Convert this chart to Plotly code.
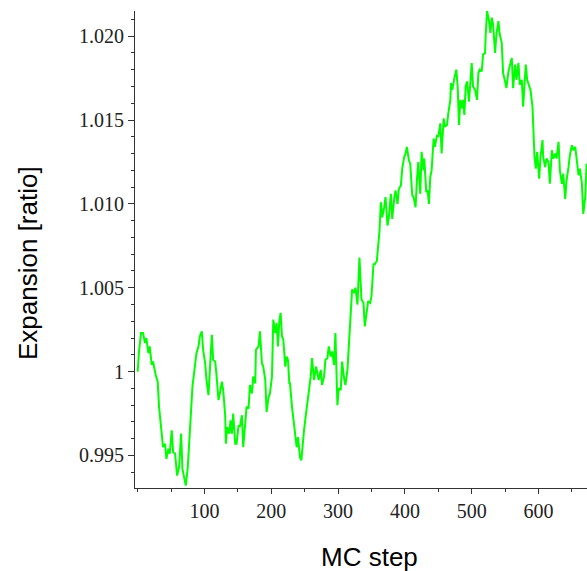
import plotly.graph_objects as go

steps = [0, 2, 5, 8, 11, 13, 16, 18, 21, 23, 27, 30, 32, 36, 38, 41, 43, 46, 48, 51,
         53, 56, 59, 62, 65, 67, 70, 72, 75, 78, 82, 85, 88, 91, 93, 96, 98, 101, 103, 106,
         108, 111, 113, 116, 118, 121, 123, 126, 128, 131, 132, 134, 137, 139, 141, 143, 146, 148, 151, 153,
         156, 158, 161, 163, 166, 168, 171, 173, 176, 177, 181, 183, 186, 188, 191, 193, 196, 198, 201, 203,
         206, 208, 210, 212, 214, 216, 218, 221, 223, 225, 227, 228, 231, 233, 236, 238, 240, 243, 245, 246,
         249, 252, 254, 256, 259, 261, 264, 267, 269, 271, 274, 276, 279, 281, 284, 286, 289, 291, 294, 296,
         299, 301, 304, 306, 309, 311, 314, 316, 319, 321, 324, 326, 329, 332, 335, 338, 340, 343, 345, 348,
         350, 353, 355, 358, 360, 362, 364, 366, 369, 371, 374, 376, 379, 381, 384, 386, 389, 391, 394, 396,
         399, 401, 403, 406, 408, 411, 413, 416, 418, 420, 423, 425, 428, 429, 432, 434, 436, 438, 440, 443,
         445, 448, 450, 453, 455, 458, 460, 463, 465, 468, 469, 471, 474, 477, 479, 481, 483, 485, 487, 489,
         491, 493, 496, 498, 500, 502, 505, 508, 510, 512, 515, 517, 520, 521, 523, 526, 528, 530, 532, 535,
         537, 540, 542, 545, 547, 550, 552, 555, 557, 560, 562, 565, 567, 570, 572, 575, 577, 579, 581, 583,
         586, 588, 591, 592, 594, 596, 598, 601, 603, 606, 607, 610, 612, 615, 617, 620, 622, 625, 627, 630,
         632, 635, 637, 640, 642, 645, 647, 650, 652, 655, 657, 660, 662, 665, 667, 670, 672]

expansion = [1.0000, 1.0012, 1.0023, 1.0023, 1.0017, 1.0020, 1.0011, 1.0015, 1.0004, 1.0006,
             0.9998, 0.9994, 0.9979, 0.9963, 0.9955, 0.9957, 0.9948, 0.9954, 0.9951, 0.9965,
             0.9952, 0.9951, 0.9938, 0.9943, 0.9963, 0.9942, 0.9937, 0.9932, 0.9943, 0.9961,
             0.9991, 1.0001, 1.0011, 1.0015, 1.0021, 1.0024, 1.0013, 1.0005, 0.9995, 0.9986,
             1.0003, 1.0022, 1.0007, 1.0006, 0.9998, 0.9983, 0.9987, 0.9994, 0.9989, 0.9974,
             0.9957, 0.9967, 0.9963, 0.9971, 0.9963, 0.9975, 0.9957, 0.9957, 0.9968, 0.9967,
             0.9974, 0.9955, 0.9969, 0.9979, 0.9978, 0.9992, 0.9987, 0.9997, 0.9993, 1.0013,
             1.0015, 1.0024, 1.0005, 1.0003, 0.9995, 0.9976, 0.9985, 0.9987, 0.9997, 1.0031,
             1.0023, 1.0029, 1.0015, 1.0030, 1.0035, 1.0021, 1.0019, 1.0003, 1.0009, 1.0007,
             0.9993, 0.9993, 0.9979, 0.9973, 0.9961, 0.9955, 0.9961, 0.9949, 0.9947, 0.9953,
             0.9965, 0.9975, 0.9981, 0.9985, 0.9997, 1.0008, 0.9995, 1.0003, 0.9999, 0.9995,
             1.0001, 0.9992, 0.9997, 1.0007, 1.0008, 1.0015, 1.0009, 1.0012, 1.0004, 1.0023,
             0.9980, 0.9990, 0.9989, 1.0006, 0.9996, 0.9992, 1.0001, 1.0016, 1.0037, 1.0049,
             1.0047, 1.0050, 1.0040, 1.0068, 1.0043, 1.0041, 1.0027, 1.0037, 1.0042, 1.0041,
             1.0045, 1.0064, 1.0064, 1.0066, 1.0076, 1.0084, 1.0101, 1.0092, 1.0098, 1.0104,
             1.0087, 1.0092, 1.0106, 1.0091, 1.0103, 1.0108, 1.0100, 1.0109, 1.0111, 1.0121,
             1.0128, 1.0130, 1.0134, 1.0126, 1.0124, 1.0105, 1.0104, 1.0098, 1.0114, 1.0125,
             1.0106, 1.0131, 1.0120, 1.0127, 1.0107, 1.0108, 1.0100, 1.0116, 1.0120, 1.0139,
             1.0134, 1.0141, 1.0140, 1.0148, 1.0130, 1.0151, 1.0146, 1.0147, 1.0154, 1.0162,
             1.0172, 1.0168, 1.0175, 1.0180, 1.0170, 1.0147, 1.0162, 1.0157, 1.0162, 1.0153,
             1.0170, 1.0173, 1.0161, 1.0174, 1.0184, 1.0170, 1.0168, 1.0162, 1.0178, 1.0180,
             1.0179, 1.0189, 1.0190, 1.0201, 1.0215, 1.0209, 1.0202, 1.0211, 1.0207, 1.0190,
             1.0201, 1.0209, 1.0201, 1.0196, 1.0178, 1.0173, 1.0169, 1.0179, 1.0183, 1.0187,
             1.0169, 1.0183, 1.0174, 1.0184, 1.0171, 1.0174, 1.0158, 1.0173, 1.0183, 1.0174,
             1.0171, 1.0168, 1.0158, 1.0142, 1.0128, 1.0121, 1.0131, 1.0115, 1.0128, 1.0138,
             1.0128, 1.0122, 1.0127, 1.0125, 1.0112, 1.0132, 1.0127, 1.0130, 1.0127, 1.0137,
             1.0120, 1.0112, 1.0118, 1.0103, 1.0114, 1.0122, 1.0129, 1.0135, 1.0132, 1.0134,
             1.0126, 1.0117, 1.0121, 1.0112, 1.0094, 1.0104, 1.0124]

y_tick_vals = [0.995, 1.0, 1.005, 1.010, 1.015, 1.020]
y_tick_text = ["0.995", "1", "1.005", "1.010", "1.015", "1.020"]
x_tick_vals = [100, 200, 300, 400, 500, 600]
x_tick_text = ["100", "200", "300", "400", "500", "600"]

W, H = 587, 571
L, R, T, B = 135, 0, 11, 83

fig = go.Figure()
fig.add_trace(go.Scatter(x=steps, y=expansion, mode="lines",
                         line=dict(color="rgb(0,255,0)", width=2),
                         showlegend=False, hoverinfo="skip"))

tickfont = dict(family="Liberation Serif, Times New Roman, serif", size=20, color="#222")
axis_common = dict(showgrid=False, zeroline=False, showline=True, linecolor="#333",
                   linewidth=1, ticks="outside", tickcolor="#333", tickwidth=1,
                   tickfont=tickfont)

fig.update_xaxes(range=[-4, 672.6], tickmode="array", tickvals=x_tick_vals,
                 ticktext=x_tick_text, ticklen=5,
                 minor=dict(tickmode="linear", tick0=0, dtick=50, ticklen=3,
                            ticks="outside", tickcolor="#333"),
                 **axis_common)
fig.update_yaxes(range=[0.99306, 1.0215], tickmode="array", tickvals=y_tick_vals,
                 ticktext=y_tick_text, ticklen=6,
                 minor=dict(tickmode="linear", tick0=1.0, dtick=0.001, ticklen=3,
                            ticks="outside", tickcolor="#333"),
                 **axis_common)

pw = W - L - R
ph = H - T - B
titlefont = dict(family="Liberation Sans, Arial, Helvetica, sans-serif", size=26, color="#000")
fig.add_annotation(text="MC step", xref="paper", yref="paper",
                   x=(369 - L) / pw, y=-(557 - (H - B)) / ph,
                   xanchor="center", yanchor="middle", showarrow=False, font=titlefont)
fig.add_annotation(text="Expansion [ratio]", xref="paper", yref="paper",
                   x=(28 - L) / pw, y=((H - B) - 263) / ph, textangle=-90,
                   xanchor="center", yanchor="middle", showarrow=False, font=titlefont)

fig.update_layout(width=W, height=H, margin=dict(l=L, r=R, t=T, b=B, pad=0),
                  plot_bgcolor="white", paper_bgcolor="white")

fig.write_html("out.html")
